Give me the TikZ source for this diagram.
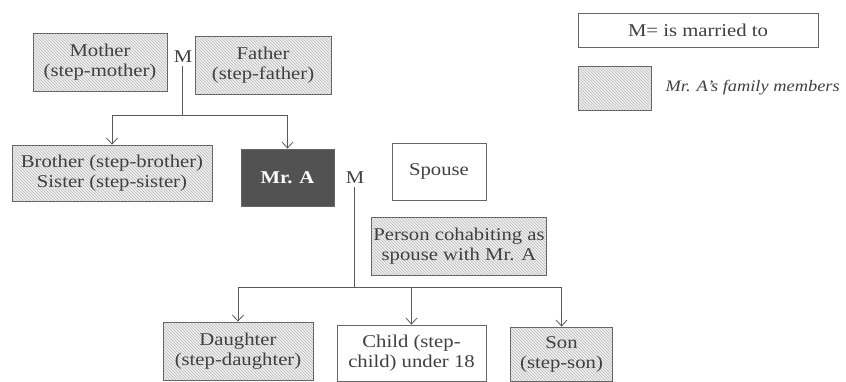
\documentclass[tikz,border=0pt]{standalone}
\usepackage{fontspec}
\setmainfont{Liberation Serif}[FakeStretch=1.15]
\usetikzlibrary{patterns,arrows.meta}

\tikzset{
  member/.style = {draw=gray!80!black, thick, preaction={fill=gray!12}, pattern=north west lines, pattern color=gray!55, align=center, inner sep=2pt},
  other/.style = {draw=gray!80!black, thick, fill=white, align=center, inner sep=2pt},
  link/.style = {draw=gray!70!black, thick},
  tip/.style = {-{Straight Barb[length=6pt,width=11pt]}}
}

\begin{document}
\begin{tikzpicture}[x=1pt, y=-1pt, font=\fontsize{18}{20}\selectfont, text=black!75]

  \useasboundingbox (0,0) rectangle (846,381);

  % parents
  \node [member, minimum width=134, minimum height=58] (mother) at (100,62) {Mother\\(step-mother)};
  \node [member, minimum width=136, minimum height=58] (father) at (263,65) {Father\\(step-father)};
  \node (m1) at (183,57) {M};

  % Mr. A's generation
  \node [member, minimum width=200, minimum height=56] (brother) at (112,173) {Brother (step-brother)\\Sister (step-sister)};
  \node [draw=gray!80!black, thick, fill=black!68, text=white, font=\fontsize{18}{20}\selectfont\bfseries, minimum width=93, minimum height=57] (mra) at (287.5,177.5) {Mr. A};
  \node (m2) at (355,178) {M};
  \node [other, minimum width=94, minimum height=57] (spouse) at (439,171.5) {Spouse};
  \node [member, minimum width=172, minimum height=58] (cohab) at (459,246) {Person cohabiting as\\spouse with Mr. A};

  % children
  \node [member, minimum width=150, minimum height=58] (daughter) at (238,351) {Daughter\\(step-daughter)};
  \node [other, minimum width=149, minimum height=56] (child) at (411.5,353) {Child (step-\\child) under 18};
  \node [member, minimum width=102, minimum height=54] (son) at (561.5,354) {Son\\(step-son)};

  % legend
  \node [other, minimum width=240, minimum height=34] (key1) at (698,30) {M= is married to};
  \node [member, minimum width=73, minimum height=44] (key2) at (614.5,88) {};
  \node [anchor=west, font=\fontsize{16}{18}\selectfont\itshape] (key2text) at (662,88) {Mr. A's family members};

  % connectors
  \coordinate (j1) at (182,115);
  \coordinate (j2) at (354,287);

  \draw [link] (m1.south) ++(-1,0) -- (j1);
  \draw [link, tip] (j1) -| (brother.north);
  \draw [link, tip] (j1) -| (mra.north);

  \draw [link] (m2.south) ++(-1,0) -- (j2);
  \draw [link, tip] (j2) -| (daughter.north);
  \draw [link, tip] (j2) -| (child.north);
  \draw [link, tip] (j2) -| (son.north);

\end{tikzpicture}
\end{document}
